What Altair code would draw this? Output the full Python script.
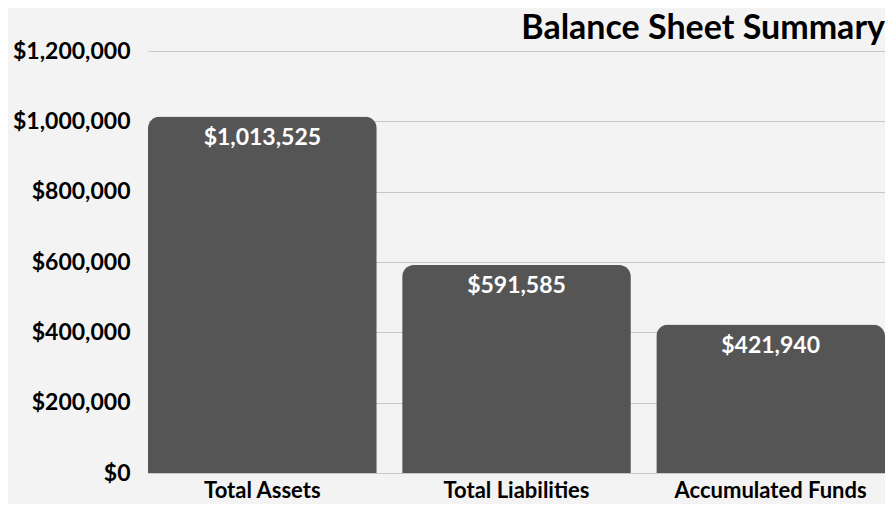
import altair as alt
import pandas as pd

categories = ["Total Assets", "Total Liabilities", "Accumulated Funds"]
values = [1013525, 591585, 421940]
labels = ["$1,013,525", "$591,585", "$421,940"]

df = pd.DataFrame({"cat": categories, "val": values, "lab": labels})

FONT = "Lato"

x = alt.X("cat:N", sort=categories, title=None,
          scale=alt.Scale(paddingInner=0.1, paddingOuter=0),
          axis=alt.Axis(labelAngle=0, labelFont=FONT, labelFontWeight="bold",
                        labelFontSize=22, labelColor="#000000", ticks=False,
                        domain=False, labelPadding=7, labelLimit=0))
y = alt.Y("val:Q", title=None,
          scale=alt.Scale(domain=[0, 1200000]),
          axis=alt.Axis(values=[0, 200000, 400000, 600000, 800000, 1000000, 1200000],
                        format="$,.0f", labelFont=FONT, labelFontWeight="bold",
                        labelFontSize=23, labelColor="#000000", ticks=False,
                        domain=False, labelPadding=18, gridColor="#c8c8c8",
                        gridWidth=1.2, labelLimit=0))

bars = alt.Chart(df).mark_bar(color="#555555", cornerRadiusTopLeft=12,
                              cornerRadiusTopRight=12).encode(x=x, y=y)

text = alt.Chart(df).mark_text(color="white", font=FONT, fontWeight="bold",
                               fontSize=23, baseline="middle", dy=21).encode(
    x=alt.X("cat:N", sort=categories), y="val:Q", text="lab:N")

chart = (bars + text).properties(
    width=737, height=422,
    autosize=alt.AutoSizeParams(type="none"),
    padding={"left": 140, "top": 43, "right": 0, "bottom": 31},
    background="#f3f3f3",
    title=alt.TitleParams("Balance Sheet Summary", anchor="end", font=FONT,
                          fontSize=34, fontWeight="bold", color="#000000",
                          offset=4, dy=10),
).configure_view(stroke=None)

chart.save("out.html", embed_options={"renderer": "svg", "actions": False})
